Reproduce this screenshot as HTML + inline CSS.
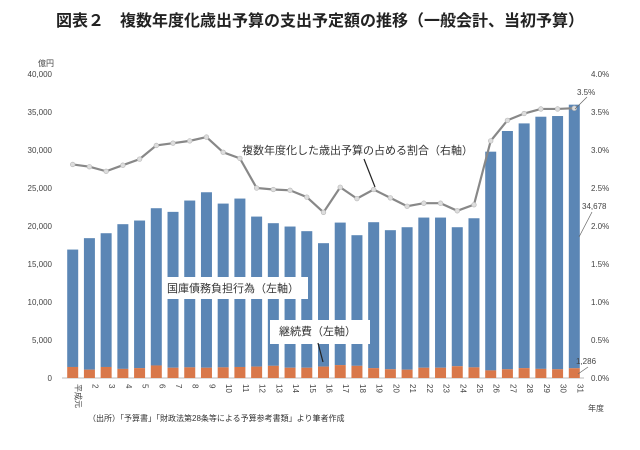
<!DOCTYPE html>
<html><head><meta charset="utf-8"><style>
body{margin:0;background:#fff;width:640px;height:445px;overflow:hidden;font-family:"Liberation Sans","Noto Sans CJK JP",sans-serif;}
</style></head><body>
<svg id="c" width="640" height="445" xmlns="http://www.w3.org/2000/svg">
<text x="320" y="26" text-anchor="middle" font-size="16" font-weight="bold" fill="#222" style="font-family:'Liberation Sans','Noto Sans CJK JP',sans-serif">図表２　複数年度化歳出予算の支出予定額の推移（一般会計、当初予算）</text>
</svg>
<script>
const years=["平成元","2","3","4","5","6","7","8","9","10","11","12","13","14","15","16","17","18","19","20","21","22","23","24","25","26","27","28","29","30","31"];
const totals=[16900,18400,19050,20240,20720,22340,21860,23350,24440,22950,23610,21240,20370,19930,19320,17740,20450,18790,20500,19450,19840,21110,21110,19840,21020,29780,32500,33500,34380,34470,35964];
const keizoku=[1450,1100,1450,1200,1300,1650,1350,1400,1350,1400,1450,1500,1600,1350,1350,1500,1700,1600,1300,1150,1100,1350,1350,1550,1400,1000,1150,1300,1200,1150,1286];
const ratio=[2.81,2.78,2.72,2.80,2.88,3.06,3.09,3.12,3.17,2.97,2.89,2.50,2.48,2.47,2.38,2.18,2.51,2.36,2.48,2.37,2.26,2.30,2.30,2.20,2.28,3.12,3.39,3.48,3.54,3.54,3.55];
const leftTicks=[0,5000,10000,15000,20000,25000,30000,35000,40000];
const rightTicks=[0,0.5,1.0,1.5,2.0,2.5,3.0,3.5,4.0];
const svg=document.getElementById('c');const NS='http://www.w3.org/2000/svg';
const y0=378,yTop=74;
const yL=v=>y0-(v/40000)*(y0-yTop);
const yR=v=>y0-(v/4)*(y0-yTop);
const xC=i=>72.7+i*16.72;
const BW=11;
function mk(t,a,txt){const e=document.createElementNS(NS,t);for(const k in a)e.setAttribute(k,a[k]);if(txt!==undefined)e.textContent=txt;svg.appendChild(e);return e;}
const F="font-family:'Liberation Sans','Noto Sans CJK JP',sans-serif";
let e;
e=mk('text',{x:38,y:66,'font-size':8,fill:'#444',style:F},'億円');


leftTicks.forEach(v=>{const t=mk('text',{x:52,y:yL(v)+3,'font-size':8,'text-anchor':'end',fill:'#444',style:F},v.toLocaleString('en-US'));

});
rightTicks.forEach(v=>{const t=mk('text',{x:591,y:yR(v)+3,'font-size':8,fill:'#444',style:F},v.toFixed(1)+'%');

});
e=mk('line',{x1:62,x2:584,y1:y0,y2:y0,stroke:'#bbb','stroke-width':1});


years.forEach((y,i)=>{
 const tot=totals[i],k=keizoku[i];
 const b=mk('rect',{x:xC(i)-BW/2,y:yL(tot),width:BW,height:yL(k)-yL(tot),fill:'#5b86b5'});
 
 
 const o=mk('rect',{x:xC(i)-BW/2,y:yL(k),width:BW,height:y0-yL(k),fill:'#d9784a'});
 
 
 const t=mk('text',{x:0,y:0,'font-size':8,fill:'#444',transform:`translate(${xC(i)+3},${y0+6}) rotate(90)`,style:F},y);
 
 
});
e=mk('polyline',{points:ratio.map((r,i)=>xC(i)+','+yR(r)).join(' '),fill:'none',stroke:'#888','stroke-width':2.2});


ratio.forEach((r,i)=>{const c=mk('circle',{cx:xC(i),cy:yR(r),r:2.3,fill:'#ddd',stroke:'#bbb','stroke-width':0.7});

});
// labels
e=mk('rect',{x:165,y:277,width:143,height:22,fill:'#fff'});


e=mk('text',{x:167,y:292,'font-size':11,fill:'#333',style:F},'国庫債務負担行為（左軸）');


e=mk('rect',{x:270,y:320,width:100,height:24,fill:'#fff'});


e=mk('text',{x:279,y:335,'font-size':11,fill:'#333',style:F},'継続費（左軸）');


e=mk('line',{x1:318,y1:343,x2:323,y2:362,stroke:'#222','stroke-width':1.2});


e=mk('text',{x:242,y:154,'font-size':11,fill:'#333',style:F},'複数年度化した歳出予算の占める割合（右軸）');


e=mk('line',{x1:364,y1:159,x2:375,y2:187,stroke:'#222','stroke-width':1.2});


e=mk('text',{x:577,y:95,'font-size':8,fill:'#444',style:F},'3.5%');


e=mk('line',{x1:587,y1:97,x2:575,y2:109,stroke:'#666','stroke-width':0.7});


e=mk('text',{x:582,y:209,'font-size':8,fill:'#444',style:F},'34,678');


e=mk('line',{x1:592,y1:212,x2:579,y2:237,stroke:'#666','stroke-width':0.7});


e=mk('text',{x:576,y:364,'font-size':8,fill:'#444',style:F},'1,286');


e=mk('line',{x1:588,y1:367,x2:578,y2:374,stroke:'#666','stroke-width':0.7});


e=mk('text',{x:588,y:411,'font-size':8,fill:'#444',style:F},'年度');


e=mk('text',{x:88,y:421,'font-size':8,fill:'#333',style:F},'（出所）「予算書」「財政法第28条等による予算参考書類」より筆者作成');


</script>
</body></html>
